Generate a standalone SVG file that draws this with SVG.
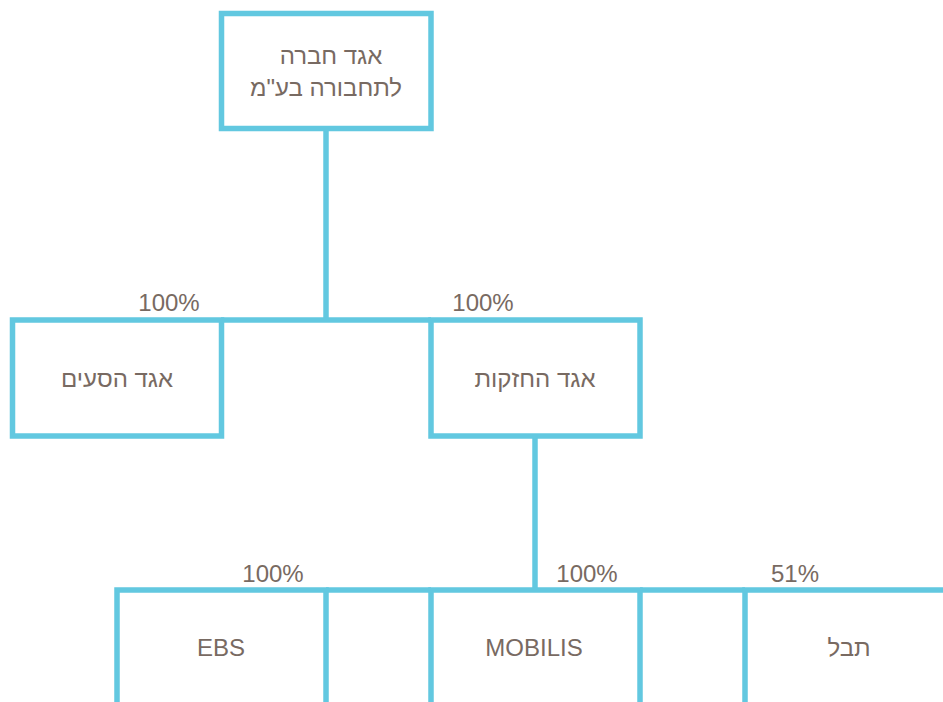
<svg xmlns="http://www.w3.org/2000/svg" width="943" height="702" viewBox="0 0 943 702">
<style>
.box{fill:#ffffff;stroke:#62c8e0;stroke-width:5.5}
.ln{stroke:#62c8e0;stroke-width:5.5;fill:none}
.t{font-family:"Liberation Sans","DejaVu Sans",Arial,sans-serif;font-size:24px;fill:#786a62;text-anchor:middle}
.he{direction:rtl;unicode-bidi:embed}
</style>
<rect width="943" height="702" fill="#ffffff"/>
<g id="connectors">
<line class="ln" x1="326" y1="128" x2="326" y2="320"/>
<line class="ln" x1="221" y1="320" x2="431" y2="320"/>
<line class="ln" x1="535" y1="436" x2="535" y2="590"/>
<line class="ln" x1="326" y1="590" x2="431" y2="590"/>
<line class="ln" x1="640" y1="590" x2="745" y2="590"/>
<text class="t" x="169" y="311">100%</text>
<text class="t" x="483" y="311">100%</text>
<text class="t" x="273" y="582">100%</text>
<text class="t" x="587" y="582">100%</text>
<text class="t" x="795" y="582">51%</text>
</g>
<g id="node-top">
<rect class="box" x="221.5" y="13.5" width="209.5" height="115"/>
<text class="t he" x="331" y="64">אגד חברה</text>
<text class="t he" x="326" y="96">לתחבורה בע"מ</text>
</g>
<g id="node-hasaim">
<rect class="box" x="12.5" y="320" width="209" height="116"/>
<text class="t he" x="117" y="387">אגד הסעים</text>
</g>
<g id="node-hahzakot">
<rect class="box" x="431" y="320" width="209" height="116"/>
<text class="t he" x="535" y="387">אגד החזקות</text>
</g>
<g id="node-ebs">
<rect class="box" x="117" y="590" width="209" height="130"/>
<text class="t" x="221" y="656">EBS</text>
</g>
<g id="node-mobilis">
<rect class="box" x="431" y="590" width="209" height="130"/>
<text class="t" x="534" y="656">MOBILIS</text>
</g>
<g id="node-tevel">
<rect class="box" x="745" y="590" width="220" height="130"/>
<text class="t he" x="849" y="656">תבל</text>
</g>
</svg>
